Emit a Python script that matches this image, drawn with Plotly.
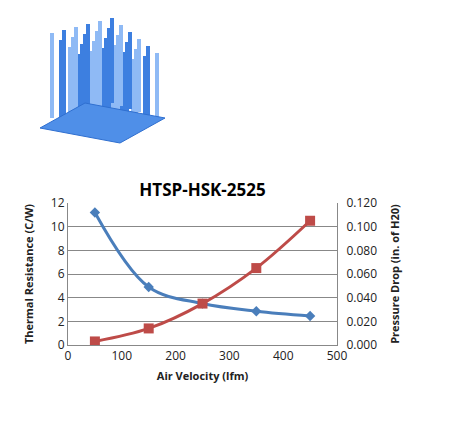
import plotly.graph_objects as go

air_velocity = [50, 150, 250, 350, 450]
thermal_res = [11.2, 4.9, 3.5, 2.85, 2.45]
pressure_drop = [0.003, 0.014, 0.035, 0.065, 0.105]

# page has an 8px body margin; figure is placed at (8, 8)
OFF = 8
W, H = 450 - OFF, 422 - OFF
L, R, T, B = 68, 337, 203, 345  # plot area in page pixels

def px(x, y):
    return (x - L) / (R - L), (B - y) / (B - T)

fig = go.Figure()
fig.add_trace(go.Scatter(x=air_velocity, y=thermal_res, mode="lines+markers",
                         line=dict(color="#4a7ebb", width=3, shape="spline"),
                         marker=dict(symbol="diamond", size=8, color="#4a7ebb"),
                         showlegend=False))
fig.add_trace(go.Scatter(x=air_velocity, y=pressure_drop, mode="lines+markers", yaxis="y2",
                         line=dict(color="#be4b48", width=3, shape="spline"),
                         marker=dict(symbol="square", size=10, color="#be4b48"),
                         showlegend=False))

# rough heatsink picture
shapes = []
for i in range(6):
    for j in range(6):
        x0 = 52 + i * 12 + j * 9
        yb = 118 - i * 3 + j * 3
        x_a, y_a = px(x0, yb)
        x_b, y_b = px(x0, yb - 85 + j * 4)
        shapes.append(dict(type="line", xref="paper", yref="paper", x0=x_a, y0=y_a, x1=x_b, y1=y_b,
                           line=dict(color="#3d7fe0" if (i + j) % 2 else "#8fbaf5", width=4)))
bx = [(40, 128), (120, 143), (165, 118), (85, 103)]
pts = [px(a, b) for a, b in bx]
path = "M " + " L ".join(f"{a},{b}" for a, b in pts) + " Z"
shapes.append(dict(type="path", xref="paper", yref="paper", path=path,
                   fillcolor="#4f8fe8", line=dict(color="#2f6fd0", width=1)))

fig.update_layout(
    width=W, height=H,
    margin=dict(l=L - OFF, r=450 - R, t=T - OFF, b=422 - B),
    paper_bgcolor="white", plot_bgcolor="white",
    font=dict(family="Open Sans, Arial", size=12, color="#222"),
    title=dict(text="<b>HTSP-HSK-2525</b>", x=((L + R) / 2 - OFF) / W, xanchor="center",
               y=1 - (190 - OFF) / H, yanchor="middle", font=dict(size=17, color="black")),
    xaxis=dict(range=[0, 500], dtick=100, showgrid=False, showline=True, linecolor="#888",
               ticks="", automargin=False,
               title=dict(text="<b>Air Velocity (lfm)</b>", font=dict(size=11), standoff=8)),
    yaxis=dict(range=[0, 12], dtick=2, showgrid=True, gridcolor="#888", showline=True,
               linecolor="#888", zeroline=False, automargin=False,
               title=dict(text="<b>Thermal Resistance (C/W)</b>", font=dict(size=11))),
    yaxis2=dict(range=[0, 0.12], dtick=0.02, tickformat=".3f", overlaying="y", side="right",
                showgrid=False, showline=True, linecolor="#888", zeroline=False, automargin=False,
                ticklabelstandoff=6,
                title=dict(text="<b>Pressure Drop (in. of H20)</b>", font=dict(size=11))),
    shapes=shapes,
)
fig.write_html("out.html")
